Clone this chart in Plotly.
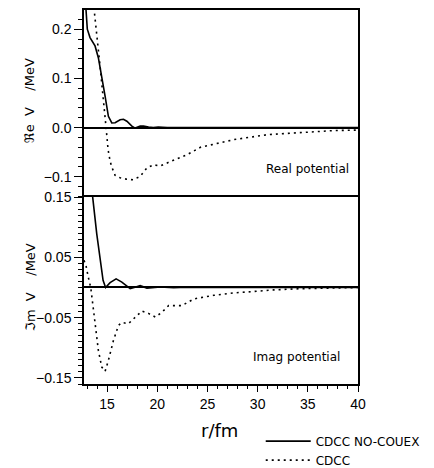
import plotly.graph_objects as go
from plotly.subplots import make_subplots

# ---- data ----
r_re_solid = [12.7, 12.9, 13.03, 13.3, 13.8, 14.13, 14.47, 14.8, 15.13, 15.47, 15.8, 16.3, 16.63,
              16.97, 17.47, 17.8, 18.3, 18.63, 19.13, 19.6, 20.1, 20.6, 21.0, 40.0]
re_solid = [0.30, 0.239, 0.200, 0.183, 0.166, 0.142, 0.098, 0.064, 0.023, 0.0095, 0.010, 0.016, 0.017,
            0.013, 0.003, -0.001, 0.003, 0.003, 0.001, 0.0, 0.001, 0.0005, 0.0, 0.0]

r_re_dot = [13.5, 13.73, 14.3, 14.9, 15.1, 15.3, 15.47, 15.8, 16.3, 16.97, 17.6, 18.3, 18.97, 19.63,
            20.3, 21.3, 22.97, 24.3, 26.3, 27.6, 31.0, 34.3, 37.6, 40.0]
re_dot = [0.28, 0.239, 0.125, 0.0, -0.045, -0.068, -0.080, -0.097, -0.102, -0.105, -0.106, -0.099,
          -0.082, -0.0755, -0.078, -0.069, -0.055, -0.040, -0.031, -0.0245, -0.0143, -0.0095, -0.006, -0.005]

r_im_solid = [13.4, 13.57, 13.97, 14.3, 14.6, 14.85, 15.3, 15.9, 16.47, 17.3, 18.3, 18.97, 20.3,
              21.63, 22.3, 40.0]
im_solid = [0.19, 0.149, 0.089, 0.045, 0.012, 0.0, 0.008, 0.0143, 0.009, -0.002, 0.003, -0.001, 0.001,
            -0.0005, 0.0, 0.0]

r_im_dot = [12.7, 12.9, 13.13, 13.37, 13.57, 13.8, 14.13, 14.47, 14.8, 15.13, 15.63, 16.13, 16.47,
            17.13, 17.8, 18.47, 19.13, 19.8, 20.47, 21.13, 22.47, 23.63, 25.63, 27.63, 29.63, 31.6,
            34.3, 37.0, 40.0]
im_dot = [0.045, 0.036, 0.017, 0.0, -0.027, -0.060, -0.104, -0.132, -0.139, -0.121, -0.088, -0.063,
          -0.058, -0.060, -0.049, -0.039, -0.043, -0.049, -0.041, -0.030, -0.030, -0.019, -0.013,
          -0.009, -0.0066, -0.004, -0.002, -0.001, 0.0]

re_ticks = [-0.1, 0.0, 0.1, 0.2]
im_ticks = [-0.15, -0.05, 0.05, 0.15]
x_ticks = [15, 20, 25, 30, 35, 40]

names = ["CDCC NO-COUEX", "CDCC"]

TICKFONT = dict(family="Liberation Sans, Arial, sans-serif", size=14, color="black")
LBLFONT = dict(family="DejaVu Sans, sans-serif", size=12, color="black")

fig = make_subplots(rows=2, cols=1, shared_xaxes=True, vertical_spacing=0)

solid = dict(color="black", width=1.6)
dotted = dict(color="black", width=1.6, dash="2px,4px")

fig.add_trace(go.Scatter(x=r_re_solid, y=re_solid, mode="lines", line=solid, name=names[0],
                         legendgroup="a", showlegend=True), row=1, col=1)
fig.add_trace(go.Scatter(x=r_re_dot, y=re_dot, mode="lines", line=dotted, name=names[1],
                         legendgroup="b", showlegend=True), row=1, col=1)
fig.add_trace(go.Scatter(x=r_im_solid, y=im_solid, mode="lines", line=solid, name=names[0],
                         legendgroup="a", showlegend=False), row=2, col=1)
fig.add_trace(go.Scatter(x=r_im_dot, y=im_dot, mode="lines", line=dotted, name=names[1],
                         legendgroup="b", showlegend=False), row=2, col=1)

common_y = dict(showline=True, linecolor="black", linewidth=1.5, mirror=True,
                ticks="outside", ticklen=8, tickwidth=1.2, tickcolor="black",
                tickfont=TICKFONT, showgrid=False,
                zeroline=True, zerolinecolor="black", zerolinewidth=1.5)

fig.update_yaxes(range=[-0.141, 0.239], tickvals=re_ticks, tickformat=".1f",
                 minor=dict(dtick=0.02, tick0=0, ticks="outside", ticklen=4, tickcolor="black", showgrid=False),
                 row=1, col=1, **common_y)
fig.update_yaxes(range=[-0.16, 0.15], tickvals=im_ticks, tickformat=".2f",
                 minor=dict(dtick=0.01, tick0=0, ticks="outside", ticklen=4, tickcolor="black", showgrid=False),
                 row=2, col=1, **common_y)

fig.update_xaxes(range=[12.7, 40], showline=True, linecolor="black", linewidth=1.8, mirror=False,
                 side="top", showgrid=False, zeroline=False, row=1, col=1, ticks="", showticklabels=False)
fig.update_xaxes(range=[12.7, 40], showline=True, linecolor="black", linewidth=1.8, mirror=True,
                 showgrid=False, zeroline=False, tickvals=x_ticks, ticks="outside", ticklen=6,
                 tickwidth=1.2, tickcolor="black", tickfont=TICKFONT,
                 minor=dict(dtick=1, tick0=0, ticks="outside", ticklen=3, tickcolor="black", showgrid=False),
                 row=2, col=1)

nb = "\u00a0"
fig.add_annotation(text="ℜe" + nb * 2 + "V" + nb * 4 + "/MeV", textangle=-90,
                   xref="paper", yref="paper", x=-0.197, y=0.757, xanchor="center", yanchor="middle",
                   showarrow=False, font=dict(family="DejaVu Sans, sans-serif", size=13, color="black"))
fig.add_annotation(text="ℑm" + nb * 2 + "V" + nb * 4 + "/MeV", textangle=-90,
                   xref="paper", yref="paper", x=-0.197, y=0.259, xanchor="center", yanchor="middle",
                   showarrow=False, font=dict(family="DejaVu Sans, sans-serif", size=13, color="black"))

fig.add_annotation(text="Real potential", xref="paper", yref="paper", x=0.973, y=0.575,
                   xanchor="right", yanchor="middle", showarrow=False, font=LBLFONT)
fig.add_annotation(text="Imag potential", xref="paper", yref="paper", x=0.942, y=0.072,
                   xanchor="right", yanchor="middle", showarrow=False, font=LBLFONT)
fig.add_annotation(text="r/fm", xref="paper", yref="paper", x=0.495, y=-0.123,
                   xanchor="center", yanchor="middle", showarrow=False,
                   font=dict(family="DejaVu Sans, sans-serif", size=18, color="black"))

# page has an 8px body margin, so the figure is 8px smaller than the window
fig.update_layout(
    width=426, height=460,
    margin=dict(l=76, r=76, t=2, b=84, autoexpand=False),
    paper_bgcolor="white", plot_bgcolor="white",
    showlegend=True,
    legend=dict(x=0.645, y=-0.114, xanchor="left", yanchor="top", bgcolor="rgba(0,0,0,0)",
                borderwidth=0, font=LBLFONT, itemwidth=45, tracegroupgap=0,
                orientation="v"),
)

fig.write_html("out.html")
